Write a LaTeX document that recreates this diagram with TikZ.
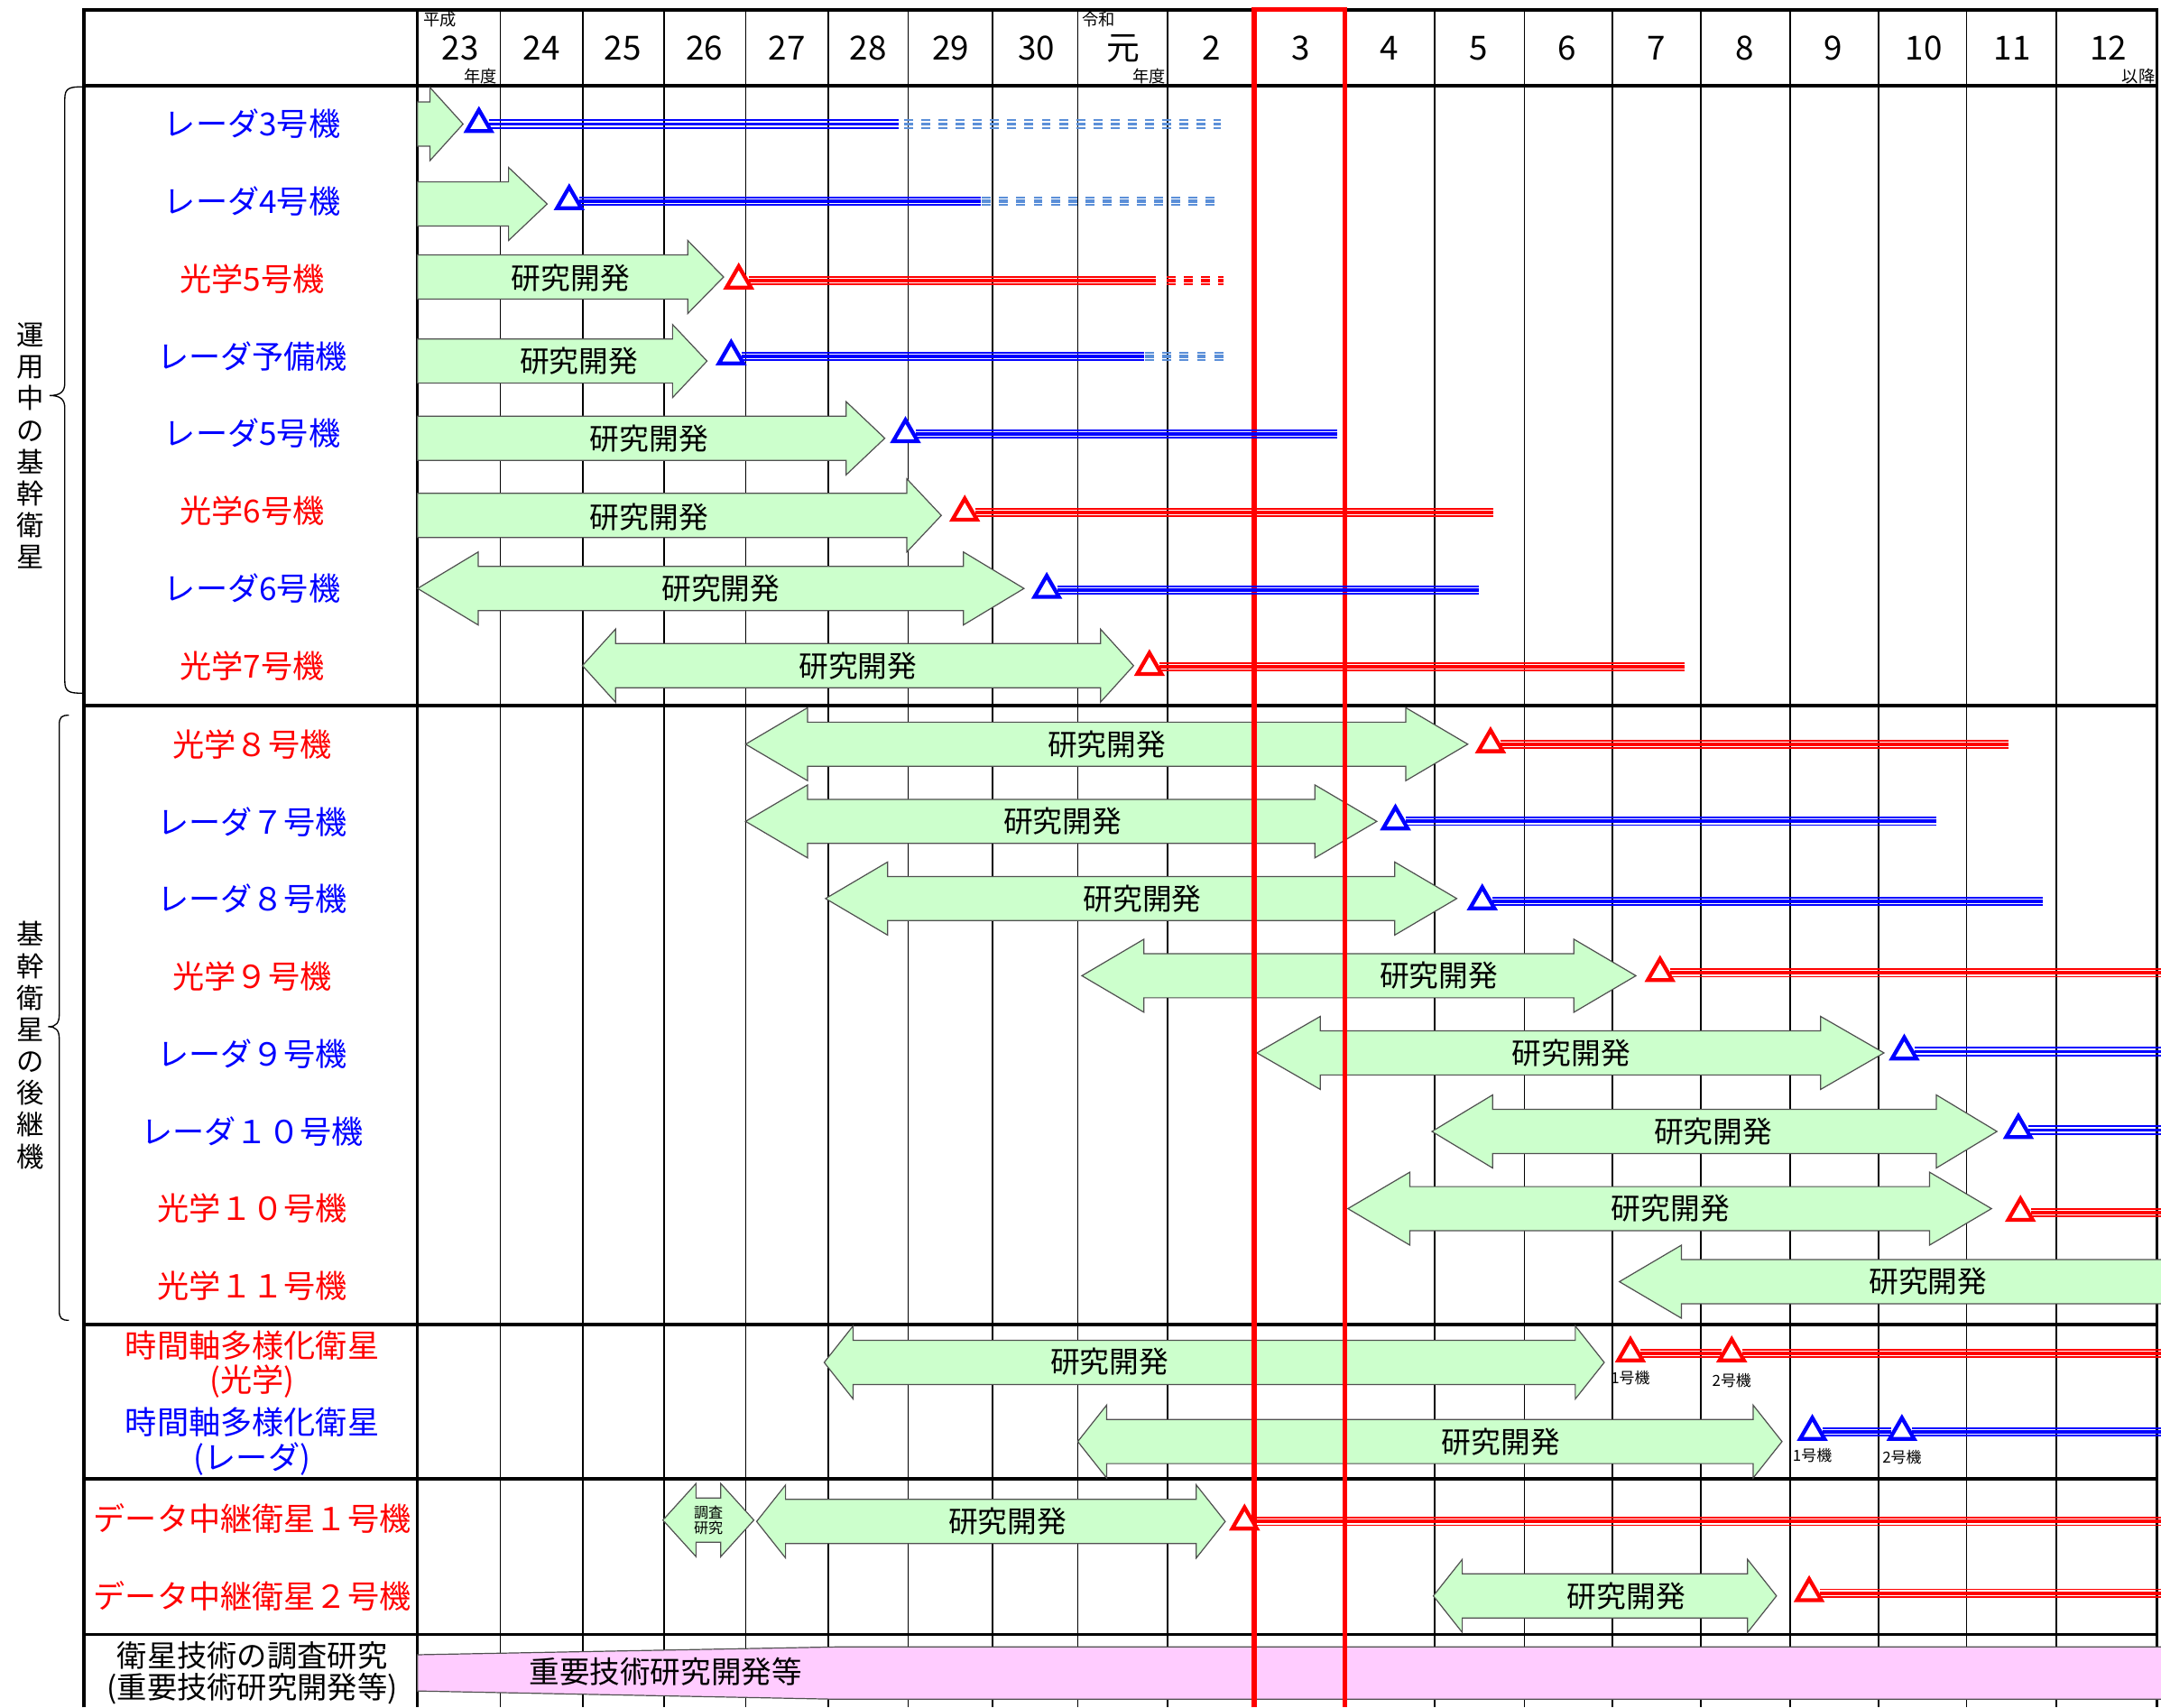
\documentclass[tikz,border=0pt]{standalone}
\usepackage{fontspec}
\setmainfont{Noto Sans CJK JP}
\usetikzlibrary{positioning, shapes.geometric}

\definecolor{devgreen}{HTML}{CCFFCC}
\definecolor{techpink}{HTML}{FFCCFF}
\definecolor{planblue}{HTML}{5B8FD8}
\definecolor{edgegray}{HTML}{505050}

\newcommand{\devboth}[4]{%
  \filldraw[devbox] (#1,#3) -- ({#1+#4},{#3-26.5}) -- ({#1+#4},{#3-16}) -- ({#2-#4},{#3-16}) -- ({#2-#4},{#3-26.5}) -- (#2,#3)
    -- ({#2-#4},{#3+26.5}) -- ({#2-#4},{#3+16}) -- ({#1+#4},{#3+16}) -- ({#1+#4},{#3+26.5}) -- cycle;}
\newcommand{\devright}[4]{%
  \filldraw[devbox] (#1,{#3-16}) -- ({#2-#4},{#3-16}) -- ({#2-#4},{#3-26.5}) -- (#2,#3) -- ({#2-#4},{#3+26.5}) -- ({#2-#4},{#3+16}) -- (#1,{#3+16}) -- cycle;}
\newcommand{\devleft}[4]{%
  \filldraw[devbox] (#1,#3) -- ({#1+#4},{#3-26.5}) -- ({#1+#4},{#3-16}) -- (#2,{#3-16}) -- (#2,{#3+16}) -- ({#1+#4},{#3+16}) -- ({#1+#4},{#3+26.5}) -- cycle;}

\begin{document}
\begin{tikzpicture}[x=0.2mm, y=-0.2mm, on grid, node distance=11.23mm,
    frame/.style={line width=1.4pt},
    gridline/.style={line width=0.6pt},
    nowline/.style={red, line width=2pt},
    devbox/.style={fill=devgreen, draw=edgegray, line width=0.45pt},
    techbox/.style={fill=techpink, draw=edgegray, line width=0.45pt},
    devtext/.style={font=\fontsize{12.2}{14}\selectfont, inner sep=0pt},
    lbl/.style={font=\fontsize{13.1}{14.2}\selectfont, align=center, inner sep=0pt},
    grp/.style={font=\fontsize{11.3}{13.1}\selectfont, align=center, inner sep=0pt},
    yrtext/.style={font=\fontsize{13.7}{15}\selectfont, inner sep=0pt},
    small/.style={font=\fontsize{6.8}{8}\selectfont, inner sep=0pt},
    tag/.style={font=\fontsize{6.3}{7}\selectfont, inner sep=0pt},
    launch/.style={regular polygon, regular polygon sides=3, draw=#1, fill=white, line width=1.6pt, minimum size=4.1mm, inner sep=0pt},
    ops/.style={draw=#1, line width=1.4pt,
      preaction={draw=#1, line width=0.7pt, transform canvas={yshift=1.55pt}},
      preaction={draw=#1, line width=0.7pt, transform canvas={yshift=-1.55pt}}},
    plan/.style={draw=#1, line width=1.4pt, dash pattern=on 3.7pt off 3.4pt,
      preaction={draw=#1, line width=0.7pt, dash pattern=on 3.7pt off 3.4pt, transform canvas={yshift=1.55pt}},
      preaction={draw=#1, line width=0.7pt, dash pattern=on 3.7pt off 3.4pt, transform canvas={yshift=-1.55pt}}},
    brace/.style={line width=0.5pt}]

\useasboundingbox (0,0) rectangle (1568,1239);

% table
\foreach \x in {363,423,482,541,601,659,720,782,847,1041,1106,1170,1234,1299,1363,1427,1492}
  \draw[gridline] (\x,7) -- (\x,1239);
\foreach \y in {62,512,961,1073,1186}
  \draw[frame] (61,\y) -- (1565,\y);
\draw[frame] (61,1239) -- (61,7) -- (1565,7) -- (1565,1239);
\draw[line width=1pt] (303,7) -- (303,1239);

\foreach \x/\yr [count=\i] in {334/23,393/24,452/25,511/26,571/27,630/28,690/29,752/30,815/元,879/2,944/3,1008/4,1073/5,1137/6,1202/7,1266/8,1330/9,1396/10,1460/11,1530/12}
  \node[yrtext] (yr\i) at (\x,35) {\yr};
\node[small, anchor=north west] (heisei) at (307,8) {平成};
\node[small, anchor=south east] (nendo1) at (361,61) {年度};
\node[small, anchor=north west] (reiwa) at (785,8) {令和};
\node[small, anchor=south east] (nendo2) at (846,61) {年度};
\node[small, anchor=south east] (ikou) at (1564,61) {以降};

% groups
\node[grp] (grp1) at (22,323.5) {運\\用\\中\\の\\基\\幹\\衛\\星};
\draw[brace] (60,63) .. controls (50,63) and (47,64) .. (47,72) -- (47,278) .. controls (47,284) and (44,287) .. (36,287)
  .. controls (44,287) and (47,290) .. (47,296) -- (47,494) .. controls (47,502) and (50,503) .. (60,503);
\node[grp] (grp2) at (22,758.5) {基\\幹\\衛\\星\\の\\後\\継\\機};
\draw[brace] (50,519) .. controls (45,519) and (43,520) .. (43,526) -- (43,736) .. controls (43,742) and (41,745) .. (35,745)
  .. controls (41,745) and (43,748) .. (43,754) -- (43,951) .. controls (43,957) and (45,958) .. (50,958);

% labels
\node[lbl, blue] (lr3) at (183,90) {レーダ3号機};
\node[lbl, blue, below=of lr3] (lr4) {レーダ4号機};
\node[lbl, red, below=of lr4] (lo5) {光学5号機};
\node[lbl, blue, below=of lo5] (lrs) {レーダ予備機};
\node[lbl, blue, below=of lrs] (lr5) {レーダ5号機};
\node[lbl, red, below=of lr5] (lo6) {光学6号機};
\node[lbl, blue, below=of lo6] (lr6) {レーダ6号機};
\node[lbl, red, below=of lr6] (lo7) {光学7号機};
\node[lbl, red] (lo8) at (183,540) {光学８号機};
\node[lbl, blue, below=of lo8] (lr7) {レーダ７号機};
\node[lbl, blue, below=of lr7] (lr8) {レーダ８号機};
\node[lbl, red, below=of lr8] (lo9) {光学９号機};
\node[lbl, blue, below=of lo9] (lr9) {レーダ９号機};
\node[lbl, blue, below=of lr9] (lr10) {レーダ１０号機};
\node[lbl, red, below=of lr10] (lo10) {光学１０号機};
\node[lbl, red, below=of lo10] (lo11) {光学１１号機};
\node[lbl, red] (lto) at (183,990) {時間軸多様化衛星\\(光学)};
\node[lbl, blue] (ltr) at (183,1046) {時間軸多様化衛星\\(レーダ)};
\node[lbl, red] (ld1) at (183,1102) {データ中継衛星１号機};
\node[lbl, red, below=of ld1] (ld2) {データ中継衛星２号機};
\node[lbl, font=\fontsize{12.4}{13.1}\selectfont] (lsv) at (183,1214) {衛星技術の調査研究\\(重要技術研究開発等)};

% development arrows
\devright{303}{336}{90}{24}
\devright{303}{397}{148}{28}
\devright{303}{525}{201}{26}
\devright{303}{513}{262}{25}
\devright{303}{642}{318}{28}
\devright{303}{683}{374}{25}
\devboth{303}{743}{427}{44}
\devboth{422.6}{822.5}{483}{24}
\devboth{541}{1065}{540}{45}
\devboth{541}{999}{596}{45}
\devboth{599}{1057}{652}{45}
\devboth{785}{1187}{708}{45}
\devboth{912}{1367}{764}{46}
\devboth{1039}{1449}{821}{44}
\devboth{978}{1445}{877}{45}
\devleft{1175}{1580}{930}{45}
\devboth{598}{1164}{988.6}{21}
\devboth{782}{1293}{1046}{21}
\devboth{481}{547}{1103}{24}
\devboth{549}{889}{1104}{21}
\devboth{1040}{1289}{1158}{21}
\filldraw[techbox] (303,1200.7) -- (608,1195) -- (1580,1195) -- (1580,1233) -- (608,1233) -- (303,1227) -- cycle;

\node[devtext] (do5) at (414,202) {研究開発};
\node[devtext] (drs) at (420,262) {研究開発};
\node[devtext] (dr5) at (471,318) {研究開発};
\node[devtext] (do6) at (471,375) {研究開発};
\node[devtext] (dr6) at (523,427) {研究開発};
\node[devtext] (do7) at (622.6,483) {研究開発};
\node[devtext] (do8) at (803,540) {研究開発};
\node[devtext] (dr7) at (771,596) {研究開発};
\node[devtext] (dr8) at (829,652) {研究開発};
\node[devtext] (do9) at (1044,708) {研究開発};
\node[devtext] (dr9) at (1140,764) {研究開発};
\node[devtext] (dr10) at (1243,821) {研究開発};
\node[devtext] (do10) at (1212,877) {研究開発};
\node[devtext] (do11) at (1399,930) {研究開発};
\node[devtext] (dto) at (805,988) {研究開発};
\node[devtext] (dtr) at (1089,1046) {研究開発};
\node[font=\fontsize{6}{6.4}\selectfont, align=center, inner sep=0pt] (dsv) at (514,1103) {調査\\研究};
\node[devtext] (dd1) at (731,1104) {研究開発};
\node[devtext] (dd2) at (1180,1158) {研究開発};
\node[devtext, font=\fontsize{12.5}{14}\selectfont] (dtech) at (483,1213) {重要技術研究開発等};

% this year
\draw[nowline] (910,1239) -- (910,7) -- (976,7) -- (976,1239);

% launches and operation
\node[launch=blue] (mr3) at (347.5,90) {};
\draw[ops=blue] (mr3.east) -- ++(297,0) coordinate (sr3);
\draw[plan=planblue] (sr3) ++(4,0) -- ++(230,0);
\node[launch=blue] (mr4) at (413,146) {};
\draw[ops=blue] (mr4.east) -- ++(291,0) coordinate (sr4);
\draw[plan=planblue] (sr4) ++(1,0) -- ++(172,0);
\node[launch=red] (mo5) at (536,203.5) {};
\draw[ops=red] (mo5.east) -- ++(295,0) coordinate (so5);
\draw[plan=red] (so5) ++(8,0) -- ++(41,0);
\node[launch=blue] (mrs) at (530.5,258.5) {};
\draw[ops=blue] (mrs.east) -- ++(292,0) coordinate (srs);
\draw[plan=planblue] (srs) ++(1,0) -- ++(57,0);
\node[launch=blue] (mr5) at (657,315) {};
\draw[ops=blue] (mr5.east) -- ++(306,0);
\node[launch=red] (mo6) at (700,372) {};
\draw[ops=red] (mo6.east) -- ++(376,0);
\node[launch=blue] (mr6) at (759.5,428) {};
\draw[ops=blue] (mr6.east) -- ++(306,0);
\node[launch=red] (mo7) at (834,484) {};
\draw[ops=red] (mo7.east) -- ++(381,0);
\node[launch=red] (mo8) at (1081.5,540) {};
\draw[ops=red] (mo8.east) -- ++(368,0);
\node[launch=blue] (mr7) at (1012.5,596) {};
\draw[ops=blue] (mr7.east) -- ++(385,0);
\node[launch=blue] (mr8) at (1075.5,654) {};
\draw[ops=blue] (mr8.east) -- ++(399,0);
\node[launch=red] (mo9) at (1204.5,706) {};
\draw[ops=red] (mo9.east) -- ++(364,0);
\node[launch=blue] (mr9) at (1381.7,763) {};
\draw[ops=blue] (mr9.east) -- ++(187,0);
\node[launch=blue] (mr10) at (1464.5,820) {};
\draw[ops=blue] (mr10.east) -- ++(104,0);
\node[launch=red] (mo10) at (1466,880) {};
\draw[ops=red] (mo10.east) -- ++(102,0);
\node[launch=red] (mto1) at (1183,982) {};
\node[launch=red] (mto2) at (1256.5,982) {};
\draw[ops=red] (mto1.east) -- (mto2.west);
\draw[ops=red] (mto2.east) -- ++(306,0);
\node[tag, below=3.5mm of mto1] (kto1) {1号機};
\node[tag, below=4mm of mto2] (kto2) {2号機};
\node[launch=blue] (mtr1) at (1315,1039) {};
\node[launch=blue] (mtr2) at (1380,1039) {};
\draw[ops=blue] (mtr1.east) -- (mtr2.west);
\draw[ops=blue] (mtr2.east) -- ++(190,0);
\node[tag, below=3.4mm of mtr1] (ktr1) {1号機};
\node[tag, below=3.7mm of mtr2] (ktr2) {2号機};
\node[launch=red] (md1) at (903,1104) {};
\draw[ops=red] (md1.east) -- ++(665,0);
\node[launch=red] (md2) at (1312.7,1156) {};
\draw[ops=red] (md2.east) -- ++(256,0);

\end{tikzpicture}
\end{document}
